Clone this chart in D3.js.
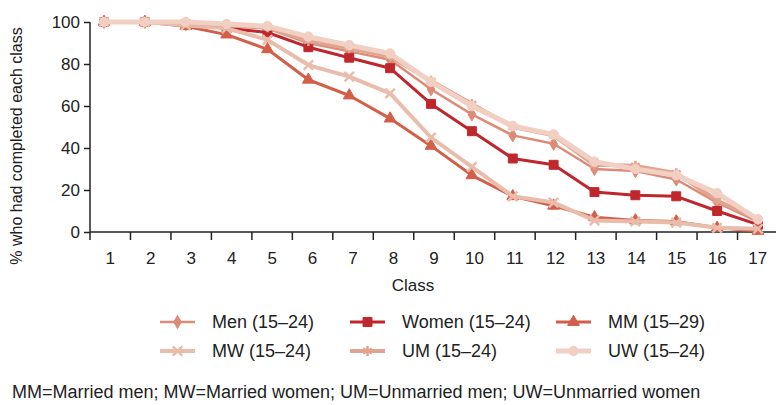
<!DOCTYPE html>
<html><head><meta charset="utf-8">
<script src="https://cdn.jsdelivr.net/npm/d3@7"></script>
<style>
html,body{margin:0;padding:0;background:#fff;}
svg text{font-family:"Liberation Sans",Arial,sans-serif;fill:#222;}
</style></head>
<body><svg id="c" width="776" height="405"></svg>
<script>
const classes = ["1","2","3","4","5","6","7","8","9","10","11","12","13","14","15","16","17"];
const yTicks = [0,20,40,60,80,100];
const seriesNames = ["Men (15–24)","Women (15–24)","MM (15–29)","MW (15–24)","UM (15–24)","UW (15–24)"];
const men   = [100,100,99,98,97,90,86,82,68,56,46,42,30,29,25,14,5];
const women = [100,100,99,97,95,88,83,78,61,48,35,32,19,17.5,17,10,3.5];
const mm    = [100,100,98,94,87,72.5,65,54,41,27,17,12.5,7,5.5,5,2,0.5];
const mw    = [100,100,98.5,97,91.5,79.5,74,66,45,31,17,14,5.5,5,4.5,2,1.5];
const um    = [100,100,99.5,98.5,97.5,91,87.5,83.5,72,61,50,46,32,31.5,28,15,6];
const uw    = [100,100,100,99,98,93,89,85,71.5,60,50.5,46.5,33.5,30,27,18.5,6];
const footnote = "MM=Married men; MW=Married women; UM=Unmarried men; UW=Unmarried women";

const seriesValues = [men, women, mm, mw, um, uw];
const colors = ["#dd8b76","#c0272d","#d35f49","#e9bcab","#e0a491","#f1d0c3"];
const widths = [2.5,3,3,4,4,5];
const symbols = [d3.symbolDiamond, d3.symbolSquare, d3.symbolTriangle, d3.symbolX, d3.symbolAsterisk, d3.symbolCircle];
const symSize = [50,80,60,60,70,70];
const symStroke = [false,false,false,true,true,false];

const svg = d3.select("#c");
const band = d3.scaleBand().domain(classes).range([90,778]);
const x = d3.scalePoint().domain(classes).range([104,758]);
const y = d3.scaleLinear().domain([0,100]).range([232,22]);

// y axis
const yAxis = svg.append("g").attr("transform","translate(90,0)")
  .call(d3.axisLeft(y).tickValues(yTicks).tickSize(6).tickPadding(4));
yAxis.select(".domain").attr("stroke","#222").attr("stroke-width",1.5).attr("d","M0,22V232");
yAxis.selectAll(".tick line").attr("stroke","#222").attr("stroke-width",1.5);
yAxis.selectAll("text").style("font-size","17px").attr("fill","#222");

// x axis line and ticks at band boundaries
svg.append("line").attr("x1",90).attr("x2",776).attr("y1",232).attr("y2",232).attr("stroke","#222").attr("stroke-width",1.5);
svg.selectAll(".xt").data(classes).enter().append("line")
  .attr("x1",d=>band(d)).attr("x2",d=>band(d)).attr("y1",232).attr("y2",240)
  .attr("stroke","#222").attr("stroke-width",1.5);
svg.selectAll(".xl").data(classes).enter().append("text")
  .attr("x",d=>band(d)+band.bandwidth()/2).attr("y",264).attr("text-anchor","middle")
  .style("font-size","17px").text(d=>d);
svg.append("text").attr("x",413).attr("y",291).attr("text-anchor","middle").style("font-size","17px").text("Class");
svg.append("text").attr("transform","translate(22,146) rotate(-90)").attr("text-anchor","middle")
  .style("font-size","16px").text("% who had completed each class");

// lines
const line = d3.line().x((d,i)=>x(classes[i])).y(d=>y(d));
seriesValues.forEach((vals,si)=>{
  const g = svg.append("g");
  g.append("path").datum(vals).attr("d",line).attr("fill","none")
    .attr("stroke",colors[si]).attr("stroke-width",widths[si]).attr("stroke-linejoin","round");
  g.selectAll("path.m").data(vals).enter().append("path").attr("class","m")
    .attr("transform",(d,i)=>`translate(${x(classes[i])},${y(d)})`)
    .attr("d",d3.symbol().type(symbols[si]).size(symSize[si]))
    .attr("fill",symStroke[si]?"none":colors[si])
    .attr("stroke",colors[si]).attr("stroke-width",symStroke[si]?2.5:1);
});

// legend
const legCols = [160,350,556];
const legRows = [322,351];
seriesNames.forEach((name,si)=>{
  const lx = legCols[si%3], ly = legRows[Math.floor(si/3)];
  const g = svg.append("g");
  g.append("line").attr("x1",lx).attr("x2",lx+35).attr("y1",ly).attr("y2",ly)
    .attr("stroke",colors[si]).attr("stroke-width",widths[si]);
  g.append("path").attr("transform",`translate(${lx+17.5},${ly})`)
    .attr("d",d3.symbol().type(symbols[si]).size(symSize[si]))
    .attr("fill",symStroke[si]?"none":colors[si])
    .attr("stroke",colors[si]).attr("stroke-width",symStroke[si]?2.5:1);
  g.append("text").attr("x",lx+52).attr("y",ly+6).style("font-size","18px").text(name);
});

svg.append("text").attr("x",12).attr("y",398).style("font-size","18px").text(footnote);
</script></body></html>
